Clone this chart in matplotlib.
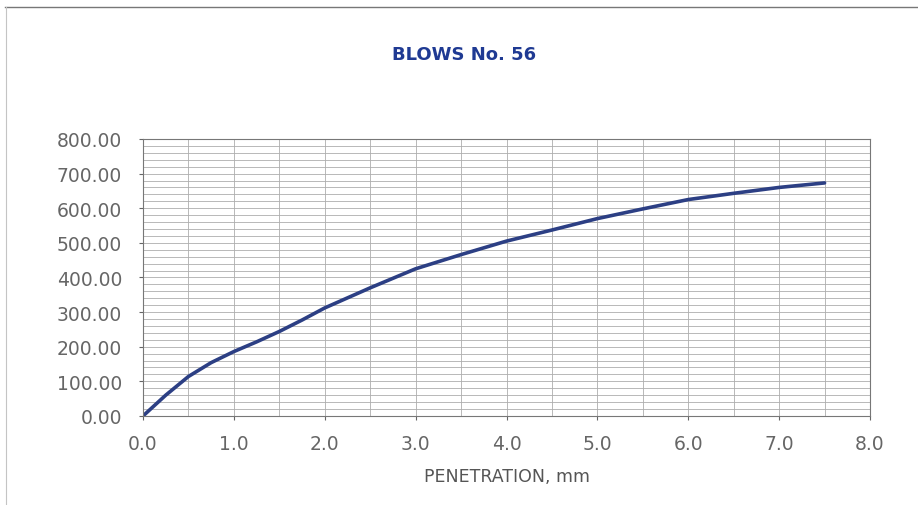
import matplotlib.pyplot as plt
from matplotlib.lines import Line2D
from matplotlib.ticker import MultipleLocator, FormatStrFormatter

# CBR test, 56 blows: load vs penetration
penetration = [0.0, 0.25, 0.5, 0.75, 1.0, 1.25, 1.5, 1.75, 2.0, 2.5, 3.0, 3.5,
               4.0, 4.5, 5.0, 5.5, 6.0, 6.5, 7.0, 7.5]
load = [0.0, 60, 114, 154, 186, 214, 244, 277, 312, 370, 425, 466,
        505, 537, 570, 598, 625, 643, 660, 673]

x_ticks = [0.0, 1.0, 2.0, 3.0, 4.0, 5.0, 6.0, 7.0, 8.0]
y_ticks = [0, 100, 200, 300, 400, 500, 600, 700, 800]

plt.rcParams['font.family'] = ['DejaVu Sans']

fig = plt.figure(figsize=(9.18, 5.06), dpi=100)
ax = fig.add_axes([0.1558, 0.176, 0.7919, 0.5474])

ax.plot(penetration, load, color='#2c3f84', linewidth=2.6,
        solid_capstyle='round', solid_joinstyle='round')

ax.set_xlim(0, 8)
ax.set_ylim(0, 800)
ax.set_xticks(x_ticks)
ax.set_yticks(y_ticks)
ax.xaxis.set_minor_locator(MultipleLocator(0.5))
ax.yaxis.set_minor_locator(MultipleLocator(20))
ax.xaxis.set_major_formatter(FormatStrFormatter('%.1f'))
ax.yaxis.set_major_formatter(FormatStrFormatter('%.2f'))

ax.grid(which='both', color='#adadad', linewidth=0.6)
ax.set_axisbelow(True)
ax.tick_params(which='major', length=3, width=0.8, color='#666666',
               labelsize=13.5, labelcolor='#666666')
ax.tick_params(axis='y', pad=12)
ax.tick_params(axis='x', pad=10)
ax.tick_params(which='minor', length=0)
for s in ax.spines.values():
    s.set_color('#777777')
    s.set_linewidth(0.8)

ax.set_xlabel('PENETRATION, mm', fontsize=12.5, color='#555555', labelpad=10)
fig.text(0.505, 0.891, 'BLOWS No. 56', ha='center', va='center',
         fontsize=13, fontweight='bold', color='#1f3a93')

# outer frame of the chart block
fig.add_artist(Line2D([0.005, 1.0], [0.984, 0.984], transform=fig.transFigure,
                      color='#777777', linewidth=1.0))
fig.add_artist(Line2D([0.006, 0.006], [0.0, 0.984], transform=fig.transFigure,
                      color='#c4c4c4', linewidth=0.8))

fig.savefig('out.png', dpi=100)
